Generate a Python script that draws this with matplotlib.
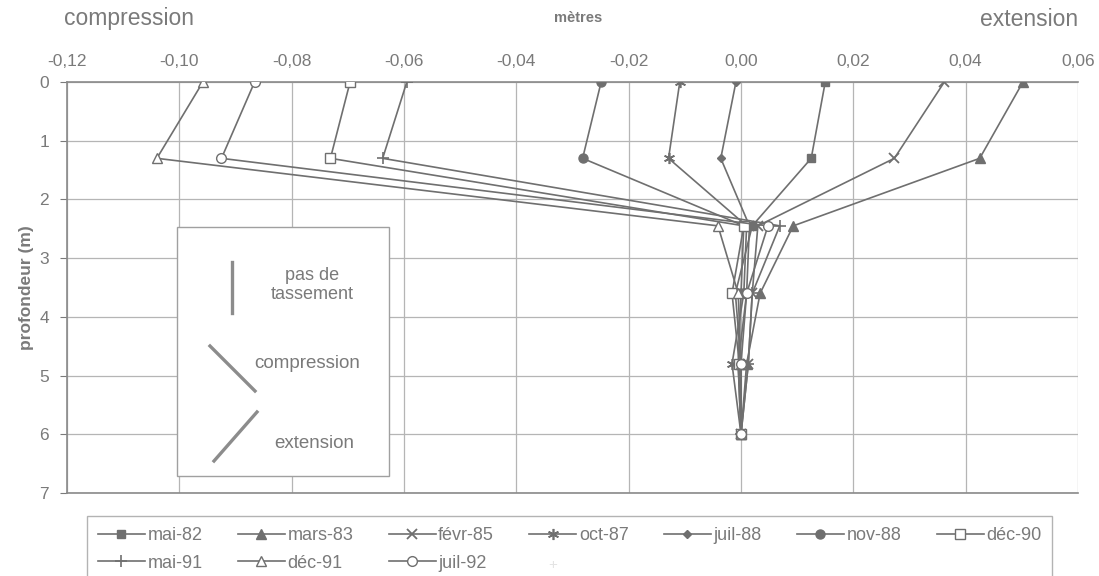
import matplotlib
matplotlib.use("Agg")
import matplotlib.pyplot as plt
from matplotlib.patches import Rectangle
from matplotlib.lines import Line2D

# ---- data ----
depths = [0, 1.3, 2.45, 3.6, 4.8, 6.0]
series_names = ["mai-82", "mars-83", "févr-85", "oct-87", "juil-88",
                "nov-88", "déc-90", "mai-91", "déc-91", "juil-92"]
mai82 = [0.0150, 0.0125, 0.0020, -0.0010, 0.0000, 0.0]
mars83 = [0.0502, 0.0425, 0.0093, 0.0034, 0.0010, 0.0]
fevr85 = [0.0362, 0.0273, 0.0030, 0.0020, 0.0013, 0.0]
oct87 = [-0.0109, -0.0129, 0.0010, 0.0005, -0.0016, 0.0]
juil88 = [-0.0009, -0.0036, 0.0015, 0.0010, -0.0005, 0.0]
nov88 = [-0.0249, -0.0282, 0.0005, 0.0000, -0.0005, 0.0]
dec90 = [-0.0696, -0.0731, 0.0005, -0.0016, -0.0003, 0.0]
mai91 = [-0.0595, -0.0638, 0.0069, 0.0020, 0.0013, 0.0]
dec91 = [-0.0958, -0.1040, -0.0041, -0.0005, 0.0000, 0.0]
juil92 = [-0.0866, -0.0925, 0.0048, 0.0010, 0.0000, 0.0]
series_values = [mai82, mars83, fevr85, oct87, juil88, nov88, dec90, mai91, dec91, juil92]
x_ticks = [-0.12, -0.10, -0.08, -0.06, -0.04, -0.02, 0.00, 0.02, 0.04, 0.06]
x_tick_labels = ["-0,12", "-0,10", "-0,08", "-0,06", "-0,04", "-0,02", "0,00", "0,02", "0,04", "0,06"]
y_ticks = [0, 1, 2, 3, 4, 5, 6, 7]

plt.rcParams['font.family'] = ['Liberation Sans', 'DejaVu Sans']

W, H = 1099, 576
fig = plt.figure(figsize=(W / 100, H / 100), dpi=100)
fig.patch.set_facecolor("white")

def fx(x):
    return x / W

def fy(y):
    return 1 - y / H

L, R, T, B = 67, 1078, 82, 493
ax = fig.add_axes([fx(L), fy(B), (R - L) / W, (B - T) / H])

LC = "#6f6f6f"
TC = "#7a7a7a"
GC = "#b5b5b5"

styles = [
    dict(marker='s', mfc=LC, ms=6),
    dict(marker='^', mfc=LC, ms=7),
    dict(marker='x', mfc=LC, ms=7, mew=1.3),
    dict(marker=(6, 2, 0), mfc=LC, ms=8, mew=1.2),
    dict(marker='D', mfc=LC, ms=4.5),
    dict(marker='o', mfc=LC, ms=6.5),
    dict(marker='s', mfc='white', ms=6.5),
    dict(marker='+', mfc=LC, ms=9, mew=1.2),
    dict(marker='^', mfc='white', ms=7),
    dict(marker='o', mfc='white', ms=7),
]

handles = {}
for name, vals, st in zip(series_names, series_values, styles):
    h, = ax.plot(vals, depths, color=LC, lw=1.2, mec=LC, label=name, zorder=3, **st)
    handles[name] = h

ax.set_xlim(-0.12, 0.06)
ax.set_ylim(7, 0)
ax.xaxis.tick_top()
ax.set_xticks(x_ticks)
ax.set_xticklabels(x_tick_labels)
ax.set_yticks(y_ticks)
ax.tick_params(axis='x', colors=TC, labelsize=12.5, length=0, pad=9)
ax.tick_params(axis='y', colors=TC, labelsize=12.5, length=5, width=0.8, pad=8, direction='out')
for lab in ax.get_xticklabels() + ax.get_yticklabels():
    lab.set_color(TC)
ax.grid(True, color=GC, lw=0.9)
ax.set_axisbelow(True)
ax.spines['right'].set_visible(False)
for s in ['left', 'top', 'bottom']:
    ax.spines[s].set_color("#8a8a8a")
    ax.spines[s].set_linewidth(1.2)

# axis titles
fig.text(fx(578), fy(18), "mètres", ha='center', va='center', fontsize=10.5,
         fontweight='bold', color=TC)
fig.text(fx(64), fy(19), "compression", ha='left', va='center', fontsize=16.5, color=TC)
fig.text(fx(1078), fy(19), "extension", ha='right', va='center', fontsize=16.5, color=TC)
fig.text(fx(26), fy(288), "profondeur (m)", ha='center', va='center', rotation=90,
         fontsize=12.5, fontweight='bold', color=TC)

# inset key box
fig.patches.append(Rectangle((fx(177), fy(476)), (389 - 177) / W, (476 - 227) / H,
                             transform=fig.transFigure, facecolor='white',
                             edgecolor='#a0a0a0', lw=1.0, zorder=5))
KC = "#8c8c8c"
fig.add_artist(Line2D([fx(232), fx(232)], [fy(262), fy(313)], color=KC, lw=2.4, zorder=6))
fig.add_artist(Line2D([fx(210), fx(255)], [fy(346), fy(391)], color=KC, lw=2.4, zorder=6))
fig.add_artist(Line2D([fx(214), fx(257)], [fy(461), fy(412)], color=KC, lw=2.4, zorder=6))
fig.text(fx(312), fy(285), "pas de\ntassement", ha='center', va='center', fontsize=13,
         color=TC, zorder=7, linespacing=1.15)
fig.text(fx(307), fy(363), "compression", ha='center', va='center', fontsize=13.5,
         color=TC, zorder=7)
fig.text(fx(314), fy(443), "extension", ha='center', va='center', fontsize=13.5,
         color=TC, zorder=7)

# legend (row-major order as in the original: 7 per row)
legend_order = ["mai-82", "mai-91", "mars-83", "déc-91", "févr-85", "juil-92",
                "oct-87", "juil-88", "nov-88", "déc-90"]
leg = fig.legend(handles=[handles[n] for n in legend_order], loc='upper left',
                 bbox_to_anchor=(fx(87), fy(516)),
                 ncol=7, fontsize=13, frameon=True, fancybox=False, edgecolor='#a0a0a0',
                 handlelength=2.6, columnspacing=1.95, handletextpad=0.15,
                 borderpad=0.6, labelspacing=0.6, borderaxespad=0)
for t in leg.get_texts():
    t.set_color(TC)
fig.text(fx(553), fy(565), "+", ha='center', va='center', fontsize=11, color=TC)

fig.savefig("out.png", dpi=100, facecolor='white')
